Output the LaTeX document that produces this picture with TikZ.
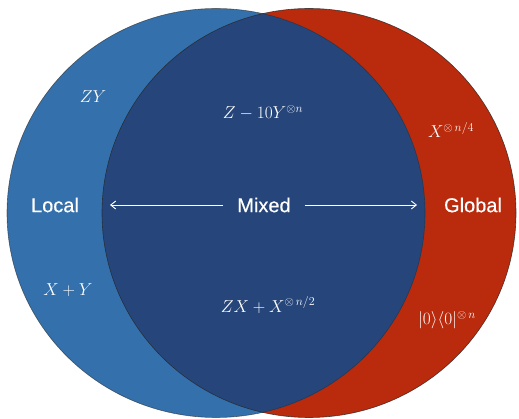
\documentclass[tikz,border=0pt]{standalone}
\usepackage{fontspec}
\newfontfamily\labelfont[FakeBold=0.35]{Liberation Sans}
\usetikzlibrary{arrows.meta}
\definecolor{localblue}{RGB}{52,112,171}
\definecolor{mixnavy}{RGB}{38,70,123}
\definecolor{globalred}{RGB}{186,42,12}
\begin{document}
\begin{tikzpicture}[x=1pt,y=1pt,
  setlabel/.style={text=white,font=\labelfont\fontsize{20}{24}\selectfont,inner sep=0pt},
  mathlabel/.style={text=white,font=\fontsize{17}{20}\selectfont,inner sep=0pt},
  spread/.style={draw=white,line width=0.9pt,-{Straight Barb[length=5pt,width=8pt,line width=0.9pt]}},
  rim/.style={draw=black!85,line width=0.6pt}]
\useasboundingbox (0,0) rectangle (519,418);
% sets
\fill[globalred] (309,205) ellipse [x radius=207, y radius=204.5];
\fill[localblue] (216,205) ellipse [x radius=209, y radius=204.5];
\begin{scope}
  \clip (309,205) ellipse [x radius=207, y radius=204.5];
  \fill[mixnavy] (216,205) ellipse [x radius=209, y radius=204.5];
\end{scope}
\draw[rim,draw opacity=0.6] (216,205) ellipse [x radius=209, y radius=204.5];
\draw[rim,draw opacity=0.8] (309,205) ellipse [x radius=207, y radius=204.5];
% labels
\node[setlabel] (local) at (55,213) {Local};
\node[setlabel,inner xsep=14pt] (mixed) at (264,213) {Mixed};
\node[setlabel] (global) at (473,213) {Global};
\coordinate (lefttip) at (110,213);
\coordinate (righttip) at (417,213);
\draw[spread] (mixed.west) -- (lefttip);
\draw[spread] (mixed.east) -- (righttip);
% examples
\node[mathlabel] (zy) at (93,321) {$ZY$};
\node[mathlabel] (zten) at (263,305) {$Z-10Y^{\otimes n}$};
\node[mathlabel] (xquart) at (451,288) {$X^{\otimes\, n/4}$};
\node[mathlabel] (xy) at (68,128) {$X+Y$};
\node[mathlabel] (zxx) at (268,113) {$ZX+X^{\otimes\, n/2}$};
\node[mathlabel] (proj) at (447,98) {$|0\rangle\langle 0|^{\otimes\, n}$};
\end{tikzpicture}
\end{document}
